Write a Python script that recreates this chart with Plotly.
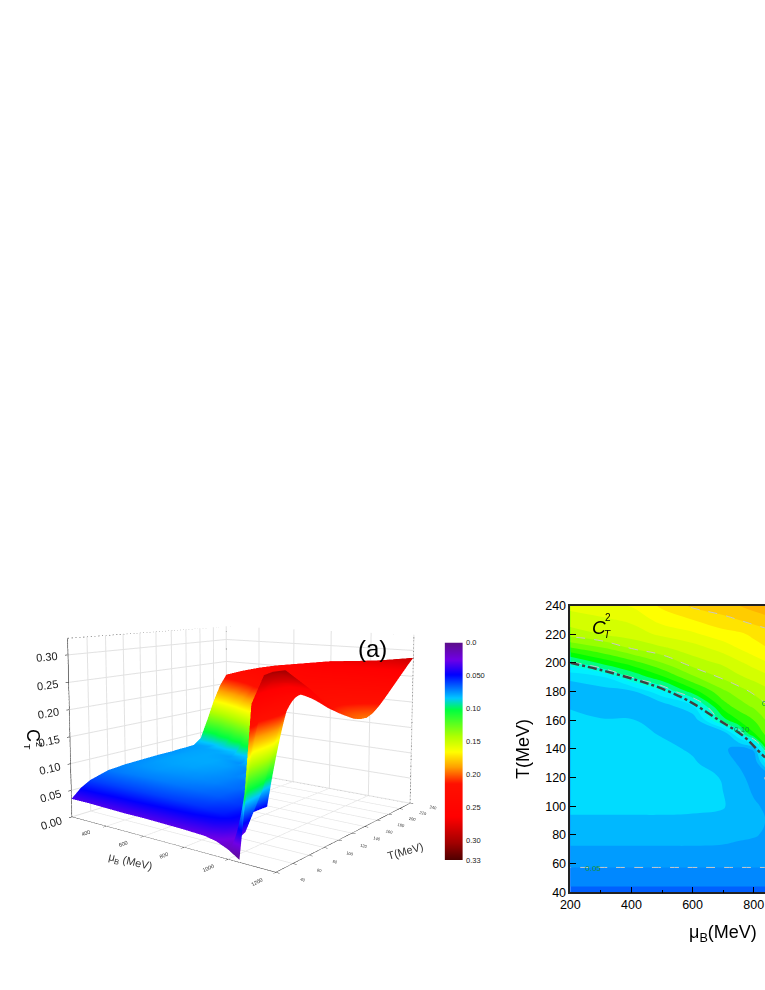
import plotly.graph_objects as go

W, H = 765, 990

# ---------- panel (a): surface data ----------
surf_mu = [200, 300, 400, 500, 600, 700, 800, 900, 950, 1000, 1050, 1100, 1150, 1200]
surf_T = [40, 50, 60, 80, 100, 120, 140, 150, 160, 170, 180, 190, 200, 210, 220, 230, 240]
sT040 = [.034, .034, .033, .032, .032, .031, .030, .028, .024, .016, .004, .250, .295, .300]
sT050 = [.050, .050, .049, .049, .048, .047, .046, .043, .037, .024, .140, .262, .298, .302]
sT060 = [.060, .060, .060, .060, .060, .059, .057, .052, .046, .032, .210, .275, .292, .290]
sT080 = [.070, .071, .071, .071, .070, .068, .065, .058, .048, .090, .240, .272, .272, .266]
sT100 = [.073, .075, .076, .075, .074, .072, .068, .058, .048, .180, .250, .250, .245, .238]
sT120 = [.074, .077, .078, .078, .076, .073, .068, .110, .200, .250, .240, .232, .222, .215]
sT140 = [.075, .078, .079, .079, .077, .072, .090, .230, .245, .240, .228, .215, .205, .200]
sT150 = [.075, .078, .079, .079, .076, .072, .170, .240, .238, .230, .222, .212, .202, .196]
sT160 = [.075, .078, .079, .078, .074, .100, .228, .236, .232, .225, .220, .212, .203, .195]
sT170 = [.076, .078, .079, .077, .085, .185, .235, .235, .232, .226, .222, .216, .208, .200]
sT180 = [.076, .078, .079, .085, .165, .225, .240, .238, .234, .230, .226, .222, .216, .210]
sT190 = [.077, .079, .095, .150, .212, .235, .243, .242, .240, .236, .233, .230, .226, .222]
sT200 = [.088, .105, .150, .205, .228, .240, .247, .247, .246, .244, .242, .240, .238, .235]
sT210 = [.125, .155, .195, .225, .238, .245, .252, .253, .252, .252, .251, .250, .249, .248]
sT220 = [.165, .195, .218, .236, .245, .250, .257, .259, .259, .260, .260, .261, .261, .261]
sT230 = [.198, .218, .232, .243, .250, .256, .263, .265, .266, .267, .268, .270, .272, .274]
sT240 = [.220, .232, .242, .250, .256, .262, .268, .271, .273, .275, .277, .280, .283, .286]
surf_z = [sT040, sT050, sT060, sT080, sT100, sT120, sT140, sT150, sT160, sT170,
          sT180, sT190, sT200, sT210, sT220, sT230, sT240]

bar_values = [0.0, 0.05, 0.10, 0.15, 0.20, 0.25, 0.30, 0.33]
bar_ticks = [0.0, 0.05, 0.10, 0.15, 0.20, 0.25, 0.30, 0.33]
bar_labels = ["0.0", "0.050", "0.10", "0.15", "0.20", "0.25", "0.30", "0.33"]
rainbow = [[0, "#5c0f8a"], [.077, "#7000e6"], [.146, "#0000ff"], [.254, "#00c8ff"],
           [.308, "#00ff40"], [.43, "#b0ff00"], [.5, "#ffff00"], [.57, "#ffa000"],
           [.646, "#ff1000"], [.8, "#ff0000"], [.92, "#a00000"], [1, "#4a0000"]]

# ---------- panel (b): contour data ----------
cont_mu = [200, 300, 400, 500, 600, 700, 750, 800, 850]
cont_T = [40, 50, 60, 70, 80, 90, 100, 120, 130, 140, 150, 160, 170, 180, 190, 200, 210, 220, 230, 240]
cT040 = [.037, .037, .037, .037, .037, .037, .037, .037, .037]
cT050 = [.0445, .0445, .0445, .0445, .0445, .0445, .0445, .0445, .0445]
cT060 = [.052, .052, .052, .052, .052, .052, .052, .052, .052]
cT070 = [.0587, .0587, .0587, .0587, .0587, .0585, .058, .056, .055]
cT080 = [.064, .064, .064, .064, .064, .063, .0615, .061, .058]
cT090 = [.069, .069, .069, .069, .069, .068, .065, .063, .059]
cT100 = [.0715, .0715, .0715, .0715, .071, .0705, .067, .062, .057]
cT120 = [.0745, .0745, .0745, .074, .073, .0695, .064, .055, .048]
cT130 = [.0745, .0745, .0745, .0735, .071, .066, .059, .05, .09]
cT140 = [.0745, .0745, .074, .072, .069, .0625, .055, .062, .12]
cT150 = [.073, .0725, .0725, .0695, .066, .06, .088, .118, .135]
cT160 = [.0715, .0705, .0705, .0665, .062, .105, .12, .13, .143]
cT170 = [.0695, .067, .0655, .064, .08, .125, .135, .142, .15]
cT180 = [.066, .0655, .068, .088, .115, .138, .145, .152, .158]
cT190 = [.0715, .078, .10, .118, .138, .152, .158, .163, .168]
cT200 = [.097, .112, .125, .14, .155, .162, .168, .174, .18]
cT210 = [.128, .138, .15, .158, .165, .174, .18, .186, .19]
cT220 = [.155, .16, .165, .172, .178, .186, .188, .192, .196]
cT230 = [.165, .168, .172, .184, .19, .197, .2, .204, .207]
cT240 = [.173, .177, .181, .192, .202, .206, .21, .214, .218]
cont_z = [cT040, cT050, cT060, cT070, cT080, cT090, cT100, cT120, cT130, cT140, cT150,
          cT160, cT170, cT180, cT190, cT200, cT210, cT220, cT230, cT240]
band_colors = ["#0060ff", "#0088ff", "#009cff", "#00b8ff", "#00dcff", "#00f0ff", "#00ffd8",
               "#00ff80", "#00ff00", "#30ff00", "#70ff00", "#98ff00", "#b8ff00", "#d4ff00",
               "#eaff00", "#ffff00", "#ffe400", "#ffcc00", "#ffb400"]
Z0, DZ = 0.03, 0.01
stepped = []
for i, c in enumerate(band_colors):
    stepped += [[i / len(band_colors), c], [(i + 1) / len(band_colors), c]]

line_levels = [0.05, 0.10, 0.15, 0.20]
tc_mu = [200, 300, 417, 500, 591, 679, 766, 809, 837]
tc_T = [200, 195, 188, 182, 173, 161, 149, 140, 134]

FONT = "Liberation Sans, Arial, sans-serif"
fig = go.Figure()

# Panel (a)
fig.add_trace(go.Surface(
    x=surf_mu, y=surf_T, z=surf_z, cmin=0, cmax=0.33, colorscale=rainbow, showscale=False,
    lighting=dict(ambient=1, diffuse=0, specular=0, fresnel=0, roughness=1),
    hoverinfo="skip", scene="scene"))

# Dashed frame of the 3D box, taken from the axis limits
xr, yr, zr = [200, 1200], [40, 240], [0, 0.33]
box_edges = [
    ([xr[0], xr[0]], [yr[1], yr[1]], zr),
    ([xr[1], xr[1]], [yr[1], yr[1]], zr),
    ([xr[0], xr[1]], [yr[1], yr[1]], [zr[1], zr[1]]),
    ([xr[0], xr[0]], yr, [zr[1], zr[1]]),
    ([xr[0], xr[1]], [yr[1], yr[1]], [zr[0], zr[0]]),
    ([xr[0], xr[0]], yr, [zr[0], zr[0]]),
]
for ex, ey, ez in box_edges:
    fig.add_trace(go.Scatter3d(x=ex, y=ey, z=ez, mode="lines", scene="scene",
                               line=dict(color="#555555", width=1.5, dash="dash"),
                               hoverinfo="skip", showlegend=False))

# Reversed colour bar
fig.add_trace(go.Heatmap(
    x=[0, 1], y=bar_values, z=[[v, v] for v in bar_values], zmin=0, zmax=0.33, zsmooth="best",
    colorscale=rainbow, showscale=False, xaxis="x2", yaxis="y2", hoverinfo="skip"))

# Panel (b)
fig.add_trace(go.Contour(
    x=cont_mu, y=cont_T, z=cont_z, zmin=Z0, zmax=Z0 + DZ * len(band_colors),
    autocontour=False, colorscale=stepped, showscale=False,
    contours=dict(coloring="fill", start=Z0, end=Z0 + DZ * len(band_colors), size=DZ),
    line=dict(width=0, smoothing=1.3), hoverinfo="skip", xaxis="x", yaxis="y"))
for lv in line_levels:
    fig.add_trace(go.Contour(
        x=cont_mu, y=cont_T, z=cont_z, autocontour=False, showscale=False,
        contours=dict(coloring="none", start=lv, end=lv, size=0.05),
        line=dict(color="#c8c8c8", width=1, dash="dash", smoothing=1.3),
        hoverinfo="skip", xaxis="x", yaxis="y"))
fig.add_trace(go.Scatter(x=tc_mu, y=tc_T, mode="lines", line=dict(color="#404040", width=2.4, dash="dashdot", shape="spline"),
                         hoverinfo="skip", showlegend=False, xaxis="x", yaxis="y"))


def paper(px, py):
    return px / W, 1 - py / H


def note(px, py, text, size, color="black", angle=0):
    x, y = paper(px, py)
    fig.add_annotation(x=x, y=y, xref="paper", yref="paper", text=text, showarrow=False,
                       font=dict(size=size, color=color, family=FONT), textangle=angle,
                       xanchor="center", yanchor="middle")


note(372, 648, "(a)", 24)
note(33, 735, "C", 18, angle=90)
note(27, 747, "T", 9, angle=90)
note(39, 744, "2", 9, angle=90)
note(130, 862, "μ<sub>B</sub> (MeV)", 11, "#333333", angle=13)
note(405, 851, "T(MeV)", 11, "#333333", angle=-16)
note(523, 749, "T(MeV)", 18, angle=-90)
note(723, 933, "μ<sub>B</sub>(MeV)", 18)
note(599, 627, "<i>C</i>", 19)
note(608, 617, "2", 10)
note(607, 634, "<i>T</i>", 10)
note(593, 868, "0.05", 8, "#109040")
note(742, 729, "0.10", 8, "#109040")
note(764, 703, "0", 8, "#109040")

fig.update_layout(
    width=W, height=H, autosize=False, showlegend=False,
    margin=dict(l=0, r=0, t=0, b=0, autoexpand=False), paper_bgcolor="white", plot_bgcolor="white",
    font=dict(family=FONT, color="black"),
    scene=dict(
        domain=dict(x=[0.0, 0.643], y=[0, 1 - 337 / H]),
        aspectmode="manual", aspectratio=dict(x=1, y=1, z=0.72),
        camera=dict(eye=dict(x=1.92, y=-2.54, z=0.59), center=dict(x=0, y=0, z=0.25),
                    up=dict(x=0, y=0, z=1), projection=dict(type="perspective")),
        xaxis=dict(range=xr, tickvals=[400, 600, 800, 1000, 1200], title=dict(text=""),
                   showbackground=False, gridcolor="#e2e2e2", showline=True, linecolor="black",
                   ticks="outside", ticklen=3, tickcolor="black", tickfont=dict(size=8, color="#333333"),
                   zeroline=False, showspikes=False),
        yaxis=dict(range=yr, tickvals=[40, 60, 80, 100, 120, 140, 160, 180, 200, 220, 240], title=dict(text=""),
                   showbackground=False, gridcolor="#e2e2e2", showline=True, linecolor="black",
                   ticks="outside", ticklen=3, tickcolor="black", tickfont=dict(size=7, color="#333333"),
                   zeroline=False, showspikes=False),
        zaxis=dict(range=zr, tickvals=[0, .05, .10, .15, .20, .25, .30], tickformat=".2f", title=dict(text=""),
                   showbackground=False, gridcolor="#e2e2e2", showline=True, linecolor="black",
                   ticks="outside", ticklen=3, tickcolor="black", tickfont=dict(size=11.5, color="#222222"),
                   zeroline=False, showspikes=False),
    ),
    xaxis=dict(domain=[570.3 / W, 1], range=[200, 200 + (W - 570.3) / 0.3057], tickvals=[200, 400, 600, 800],
               ticks="inside", ticklen=6, tickwidth=1.2, tickcolor="black", showline=True, linecolor="#222222",
               linewidth=1.5, mirror=True, showgrid=False, zeroline=False, tickfont=dict(size=12.5), automargin=False,
               minor=dict(tickvals=[300, 500, 700], ticks="inside", ticklen=3, tickcolor="black")),
    yaxis=dict(domain=[1 - 892.3 / H, 1 - 605.5 / H], range=[40, 240], dtick=20, tick0=40, automargin=False,
               ticks="inside", ticklen=6, tickwidth=1.2, tickcolor="black", showline=True, linecolor="#222222",
               linewidth=1.5, showgrid=False, zeroline=False, tickfont=dict(size=12.5)),
    xaxis2=dict(domain=[444.6 / W, 463 / W], range=[0, 1], visible=False, anchor="y2", automargin=False),
    yaxis2=dict(domain=[1 - 860 / H, 1 - 642.5 / H], range=[0.33, 0], anchor="free", position=463 / W, side="right",
                tickvals=bar_ticks, ticktext=bar_labels, ticks="", showgrid=False, zeroline=False, automargin=False,
                ticklabelstandoff=2, showline=False, tickfont=dict(size=7.5, color="#222222")),
)
fig.write_html("out.html", config=dict(displayModeBar=False),
               post_script="document.body.style.margin='0';document.documentElement.style.overflow='hidden';")
